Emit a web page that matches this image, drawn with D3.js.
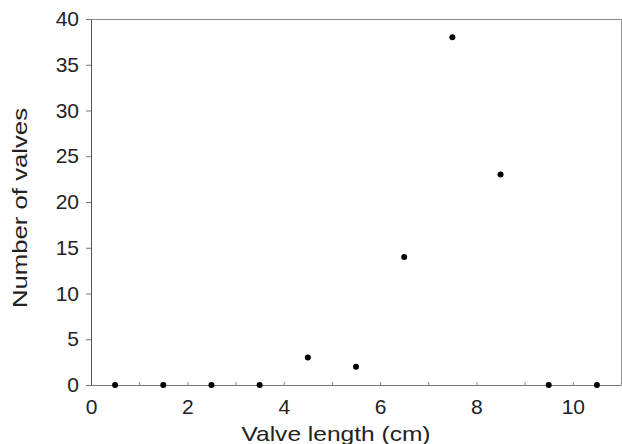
<!DOCTYPE html>
<html>
<head>
<meta charset="utf-8">
<script src="https://cdn.jsdelivr.net/npm/d3@7"></script>
<style>
html,body{margin:0;padding:0;background:#fff;}
svg{display:block;}
text{font-family:"Liberation Sans",Arial,Helvetica,sans-serif;fill:#222;}
</style>
</head>
<body>
<svg id="chart" width="622" height="444"></svg>
<script>
const lengths = [0.5,1.5,2.5,3.5,4.5,5.5,6.5,7.5,8.5,9.5,10.5];
const counts  = [0,0,0,0,3,2,14,38,23,0,0];
const xTickLabels = [0,2,4,6,8,10];
const yTickLabels = [0,5,10,15,20,25,30,35,40];
const xTitle = "Valve length (cm)";
const yTitle = "Number of valves";

const svg = d3.select("#chart");
const L = 91, R = 621, T = 19, B = 385;
const x = d3.scaleLinear().domain([0,11]).range([L,R]);
const y = d3.scaleLinear().domain([0,40]).range([B,T]);

// frame: top and right borders
svg.append("line").attr("x1",L).attr("x2",R).attr("y1",T+0.5).attr("y2",T+0.5)
  .attr("stroke","#888").attr("stroke-width",1);
svg.append("line").attr("x1",R+0.5).attr("x2",R+0.5).attr("y1",T).attr("y2",B)
  .attr("stroke","#999").attr("stroke-width",1);

// x axis: minor inward ticks every unit, labels at even values
const xAxis = d3.axisBottom(x).tickValues(d3.range(0,12,1)).tickSize(-3).tickSizeOuter(0)
  .tickFormat(d => xTickLabels.includes(d) ? d : "").tickPadding(14);
const gx = svg.append("g").attr("transform",`translate(0,${B})`).call(xAxis);
gx.select(".domain").attr("stroke","#777");
gx.selectAll(".tick line").attr("stroke","#888");
gx.selectAll(".tick text").style("font-size","21px").attr("fill","#333")
  .attr("font-family","Liberation Sans, Arial, sans-serif");

// y axis: outward ticks every 5
const yAxis = d3.axisLeft(y).tickValues(yTickLabels).tickSize(5).tickSizeOuter(0).tickPadding(7);
const gy = svg.append("g").attr("transform",`translate(${L},0)`).call(yAxis);
gy.select(".domain").attr("stroke","#555");
gy.selectAll(".tick line").attr("stroke","#777");
gy.selectAll(".tick text").style("font-size","21px").attr("fill","#333")
  .attr("font-family","Liberation Sans, Arial, sans-serif");

// points
svg.append("g").selectAll("circle").data(lengths).join("circle")
  .attr("cx",(d)=>x(d)).attr("cy",(d,i)=>y(counts[i])).attr("r",3).attr("fill","#000");

// titles
svg.append("text").attr("x",336).attr("y",441).attr("text-anchor","middle")
  .attr("textLength",189).attr("lengthAdjust","spacingAndGlyphs")
  .style("font-size","21px").text(xTitle);
svg.append("text").attr("transform",`translate(27,208) rotate(-90)`).attr("text-anchor","middle")
  .attr("textLength",200).attr("lengthAdjust","spacingAndGlyphs")
  .style("font-size","21px").text(yTitle);
</script>
</body>
</html>
